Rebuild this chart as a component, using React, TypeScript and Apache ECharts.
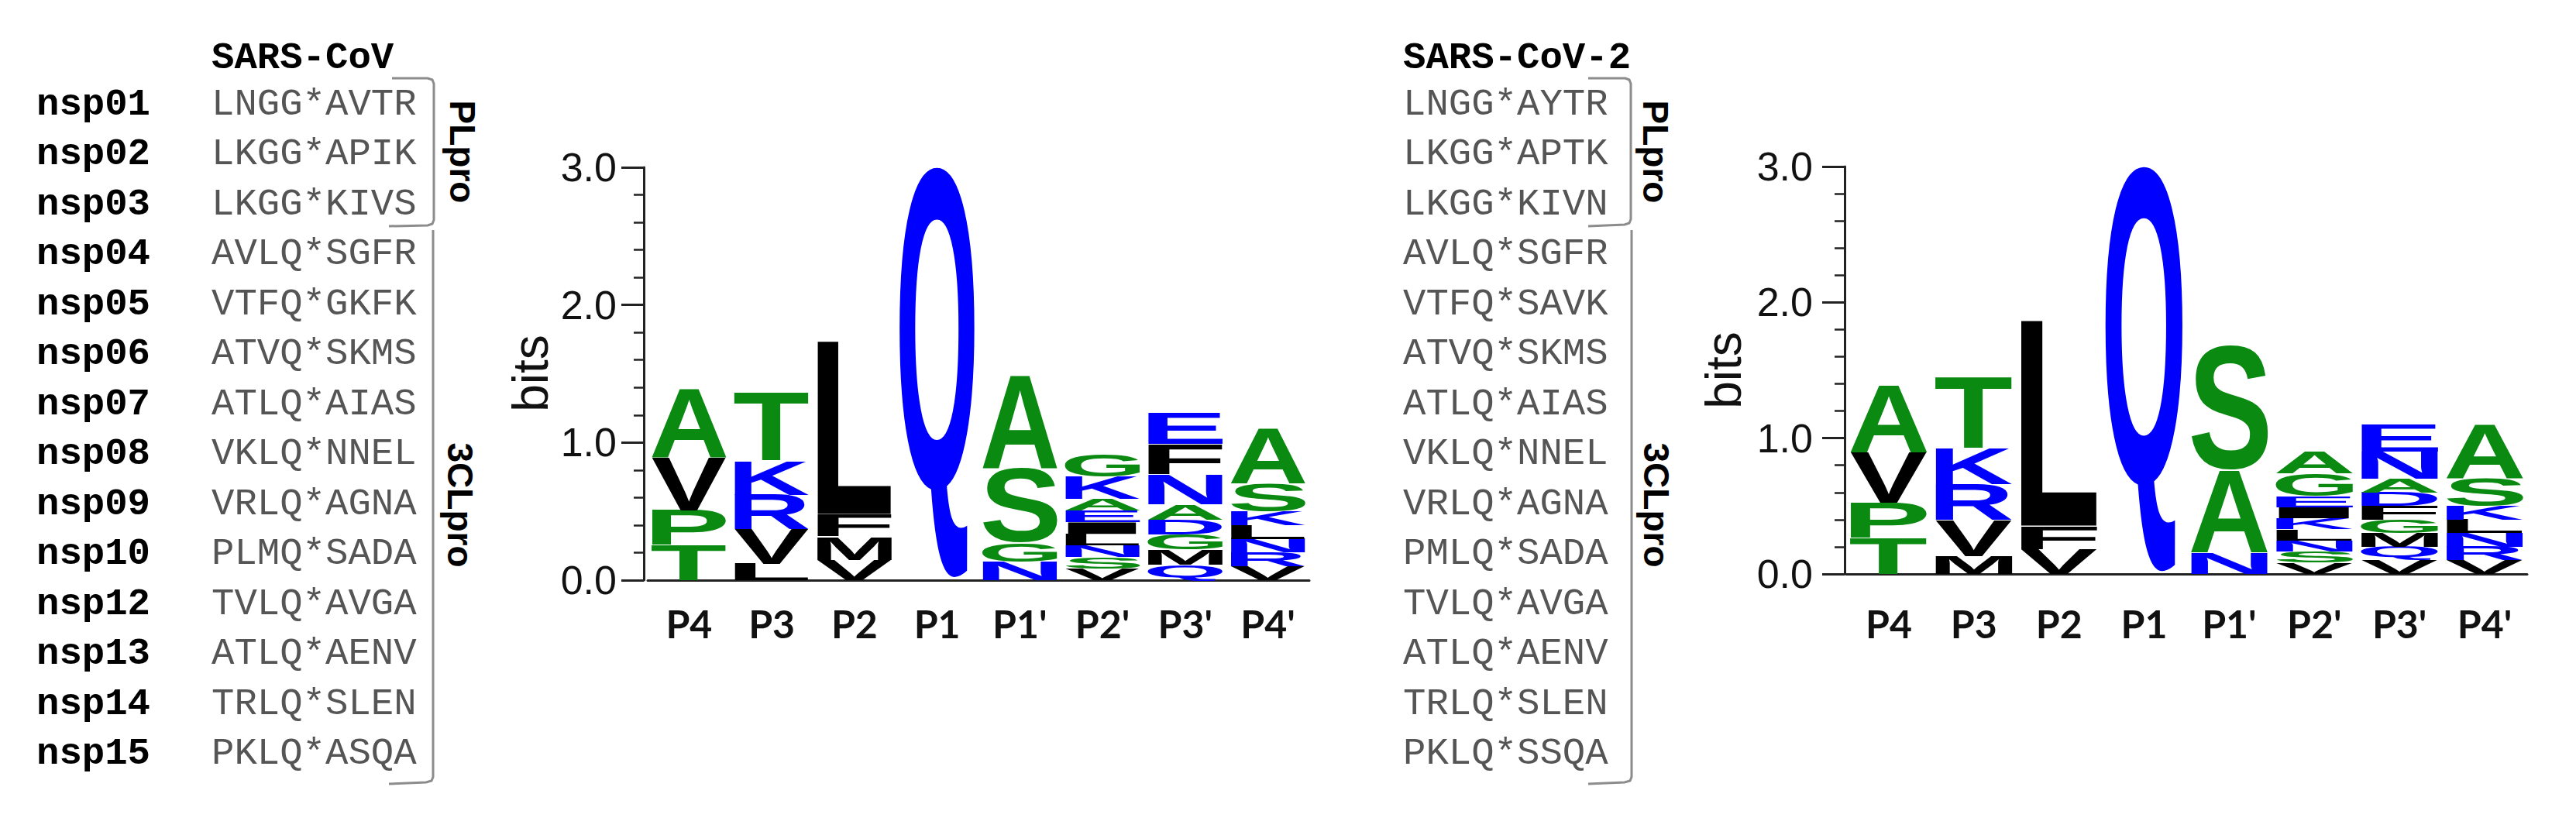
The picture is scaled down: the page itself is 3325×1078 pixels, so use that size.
import React, { useEffect, useRef } from "react";
import * as echarts from "echarts";

// ---------- data ----------
const positions = ["P4", "P3", "P2", "P1", "P1'", "P2'", "P3'", "P4'"];

// letters from bottom to top of each stack, and their heights in bits
const covLetters = [
  ["T", "P", "V", "A"],
  ["L", "V", "R", "K", "T"],
  ["V", "M", "F", "L"],
  ["Q"],
  ["N", "G", "S", "A"],
  ["V", "S", "N", "L", "I", "E", "A", "K", "G"],
  ["Q", "M", "G", "D", "A", "N", "F", "E"],
  ["V", "R", "N", "L", "K", "S", "A"],
];
const covBits = [
  [0.253, 0.252, 0.38, 0.505],
  [0.12, 0.25, 0.25, 0.25, 0.495],
  [0.145, 0.17, 0.16, 1.255],
  [2.99],
  [0.135, 0.135, 0.54, 0.68],
  [0.084, 0.084, 0.084, 0.084, 0.084, 0.084, 0.084, 0.165, 0.165],
  [0.11, 0.11, 0.11, 0.11, 0.11, 0.22, 0.22, 0.22],
  [0.1, 0.1, 0.1, 0.1, 0.1, 0.2, 0.4],
];

const cov2Letters = [
  ["T", "P", "V", "A"],
  ["M", "V", "R", "K", "T"],
  ["V", "F", "L"],
  ["Q"],
  ["N", "A", "S"],
  ["V", "S", "N", "L", "K", "I", "E", "G", "A"],
  ["V", "Q", "M", "G", "F", "D", "A", "N", "E"],
  ["V", "R", "N", "L", "K", "S", "A"],
];
const cov2Bits = [
  [0.263, 0.26, 0.372, 0.5],
  [0.13, 0.265, 0.265, 0.265, 0.525],
  [0.18, 0.17, 1.51],
  [2.99],
  [0.155, 0.61, 0.92],
  [0.082, 0.082, 0.082, 0.082, 0.082, 0.082, 0.082, 0.165, 0.165],
  [0.1, 0.1, 0.1, 0.1, 0.1, 0.1, 0.1, 0.2, 0.2],
  [0.1, 0.1, 0.1, 0.1, 0.1, 0.2, 0.4],
];

const yTickValues = [0, 1, 2, 3];

const nspNames = [
  "nsp01", "nsp02", "nsp03", "nsp04", "nsp05", "nsp06", "nsp07",
  "nsp08", "nsp09", "nsp10", "nsp12", "nsp13", "nsp14", "nsp15",
];
const covSites = [
  "LNGG*AVTR", "LKGG*APIK", "LKGG*KIVS", "AVLQ*SGFR", "VTFQ*GKFK", "ATVQ*SKMS", "ATLQ*AIAS",
  "VKLQ*NNEL", "VRLQ*AGNA", "PLMQ*SADA", "TVLQ*AVGA", "ATLQ*AENV", "TRLQ*SLEN", "PKLQ*ASQA",
];
const cov2Sites = [
  "LNGG*AYTR", "LKGG*APTK", "LKGG*KIVN", "AVLQ*SGFR", "VTFQ*SAVK", "ATVQ*SKMS", "ATLQ*AIAS",
  "VKLQ*NNEL", "VRLQ*AGNA", "PMLQ*SADA", "TVLQ*AVGA", "ATLQ*AENV", "TRLQ*SLEN", "PKLQ*SSQA",
];

const GREEN = "#0b8a12";
const BLUE = "#0000ff";
const BLACK = "#000000";
const letterColor: Record<string, string> = {
  A: GREEN, S: GREEN, G: GREEN, T: GREEN, P: GREEN, C: GREEN, Y: GREEN,
  Q: BLUE, N: BLUE, K: BLUE, R: BLUE, E: BLUE, D: BLUE, H: BLUE,
  V: BLACK, L: BLACK, M: BLACK, F: BLACK, I: BLACK, W: BLACK,
};

// ---------- component ----------
export default function App() {
  const ref = useRef<HTMLDivElement>(null);

  useEffect(() => {
    const el = ref.current;
    if (!el) return;
    const chart = echarts.init(el, null, { renderer: "svg" });

    const FS = 100;
    const FAMILY = "Liberation Sans";
    const fontStr = `bold ${FS}px ${FAMILY}`;

    // glyph ink metrics
    const cv = document.createElement("canvas");
    const ctx = cv.getContext("2d") as CanvasRenderingContext2D;
    ctx.font = fontStr;
    const metrics: Record<string, { l: number; r: number; a: number; d: number }> = {};
    const all = new Set<string>([...covLetters.flat(), ...cov2Letters.flat()]);
    all.forEach((L) => {
      const m = ctx.measureText(L);
      metrics[L] = {
        l: m.actualBoundingBoxLeft,
        r: m.actualBoundingBoxRight,
        a: m.actualBoundingBoxAscent,
        d: m.actualBoundingBoxDescent,
      };
    });

    // offset of alphabetic baseline below the "central" baseline used by the SVG renderer
    const ns = "http://www.w3.org/2000/svg";
    const svg = document.createElementNS(ns, "svg");
    svg.setAttribute("width", "400");
    svg.setAttribute("height", "400");
    (svg as any).style.position = "absolute";
    (svg as any).style.left = "0px";
    (svg as any).style.top = "0px";
    (svg as any).style.visibility = "hidden";
    const mk = (central: boolean) => {
      const t = document.createElementNS(ns, "text");
      t.setAttribute("x", "0");
      t.setAttribute("y", "200");
      t.setAttribute("style", `font: ${fontStr}`);
      if (central) t.setAttribute("dominant-baseline", "central");
      t.textContent = "H";
      svg.appendChild(t);
      return t as SVGTextElement;
    };
    const tA = mk(false);
    const tC = mk(true);
    document.body.appendChild(svg);
    let base = tC.getBBox().y - tA.getBBox().y;
    document.body.removeChild(svg);
    if (!isFinite(base)) base = 0.35 * FS;

    const buildItems = (letters: string[][], bits: number[][]) => {
      const items: { value: number[]; letter: string }[] = [];
      letters.forEach((stack, i) => {
        let y = 0;
        stack.forEach((L, j) => {
          const h = bits[i][j];
          items.push({ value: [i, y, y + h], letter: L });
          y += h;
        });
      });
      return items;
    };

    const makeSeries = (k: number, items: { value: number[]; letter: string }[]) => ({
      type: "custom",
      xAxisIndex: k,
      yAxisIndex: k,
      clip: false,
      silent: true,
      encode: { x: 0, y: [1, 2] },
      data: items.map((it) => ({ value: it.value })),
      renderItem: (params: any, api: any) => {
        const L = items[params.dataIndex].letter;
        const m = metrics[L];
        const i = api.value(0);
        const y0 = api.value(1);
        const y1 = api.value(2);
        const pb = api.coord([i, y0]);
        const pt = api.coord([i, y1]);
        const band = api.size([1, 0])[0];
        const w = band * 0.91;
        const H = Math.max(pb[1] - pt[1], 0.5);
        const X0 = pb[0] - w / 2;
        const Y0 = pt[1];
        const sx = w / (m.l + m.r);
        const sy = H / (m.a + m.d);
        return {
          type: "text",
          x: X0 + sx * m.l,
          y: Y0 - sy * (base - m.a),
          scaleX: sx,
          scaleY: sy,
          silent: true,
          style: {
            text: L,
            fontSize: FS,
            fontFamily: FAMILY,
            fontWeight: "bold",
            fill: letterColor[L] || BLACK,
            align: "left",
            verticalAlign: "middle",
          },
        };
      },
    });

    const grids = [
      { left: 836, top: 216, width: 854, height: 533 },
      { left: 2383, top: 215, width: 879, height: 526 },
    ];

    const xAxes = [0, 1].map((k) => ({
      type: "category",
      gridIndex: k,
      data: positions,
      boundaryGap: true,
      axisLine: { onZero: false, lineStyle: { color: "#222", width: 3 } },
      axisTick: { alignWithLabel: true, length: 9, lineStyle: { color: "#333", width: 2 } },
      axisLabel: {
        margin: k === 0 ? 31 : 39,
        fontFamily: "Lato",
        fontWeight: "bold",
        fontSize: 50,
        color: "#111",
      },
      splitLine: { show: false },
    }));

    const yAxes = [0, 1].map((k) => ({
      type: "value",
      gridIndex: k,
      min: yTickValues[0],
      max: yTickValues[yTickValues.length - 1],
      interval: 1,
      offset: k === 0 ? 5 : 2,
      axisLine: { show: true, lineStyle: { color: "#222", width: 3 } },
      axisTick: { show: true, length: 29, lineStyle: { color: "#222", width: 3 } },
      minorTick: { show: true, splitNumber: 5, length: 13, lineStyle: { color: "#222", width: 2.5 } },
      axisLabel: {
        formatter: (v: number) => v.toFixed(1),
        margin: k === 0 ? 35 : 41,
        fontFamily: "Liberation Sans",
        fontSize: 52,
        color: "#111",
      },
      splitLine: { show: false },
    }));

    // ---------- side tables ----------
    const rowY = (i: number) => 135 + i * 64.46;
    const mono = "Liberation Mono";
    const graphic: any[] = [];
    const txt = (text: string, x: number, y: number, o: any = {}) =>
      graphic.push({
        type: "text",
        x,
        y,
        rotation: o.rotation || 0,
        silent: true,
        style: {
          text,
          fontFamily: o.family || mono,
          fontSize: o.size || 49,
          fontWeight: o.weight || "normal",
          fill: o.fill || "#000",
          align: o.align || "left",
          verticalAlign: "middle",
        },
      });

    txt("SARS-CoV", 273, 75, { weight: "bold" });
    txt("SARS-CoV-2", 1811, 75, { weight: "bold" });
    nspNames.forEach((n, i) => {
      txt(n, 47, rowY(i), { weight: "bold" });
      txt(covSites[i], 273, rowY(i), { fill: "#555" });
      txt(cov2Sites[i], 1811, rowY(i), { fill: "#555" });
    });

    const line = (pts: number[][]) =>
      graphic.push({
        type: "polyline",
        silent: true,
        shape: { points: pts },
        style: { stroke: "#8c8c8c", lineWidth: 3, fill: null },
      });
    line([[506, 101], [552, 101], [558, 103], [560, 108], [560, 284], [558, 289], [552, 291], [502, 292]]);
    line([[559, 297], [559, 1003], [557, 1008], [550, 1010], [502, 1012]]);
    line([[2050, 101], [2098, 101], [2103, 103], [2105, 108], [2105, 283], [2103, 288], [2097, 290], [2050, 292]]);
    line([[2106, 297], [2106, 1003], [2104, 1008], [2097, 1010], [2050, 1012]]);

    const sideOpt = { family: "Liberation Sans", weight: "bold", size: 46, align: "center", rotation: -Math.PI / 2 };
    txt("PLpro", 597, 196, sideOpt);
    txt("3CLpro", 594, 652, sideOpt);
    txt("PLpro", 2137, 196, sideOpt);
    txt("3CLpro", 2138, 652, sideOpt);

    const bitsOpt = { family: "Liberation Sans", size: 64, align: "center", rotation: Math.PI / 2, fill: "#111" };
    txt("bits", 685, 482, bitsOpt);
    txt("bits", 2225, 478, bitsOpt);

    chart.setOption({
      animation: false,
      backgroundColor: "#ffffff",
      grid: grids,
      xAxis: xAxes,
      yAxis: yAxes,
      series: [
        makeSeries(0, buildItems(covLetters, covBits)),
        makeSeries(1, buildItems(cov2Letters, cov2Bits)),
      ],
      graphic,
    });

    return () => {
      chart.dispose();
    };
  }, []);

  return (
    <div
      ref={ref}
      style={{ position: "fixed", left: 0, top: 0, width: 3325, height: 1078, background: "#fff" }}
    />
  );
}
